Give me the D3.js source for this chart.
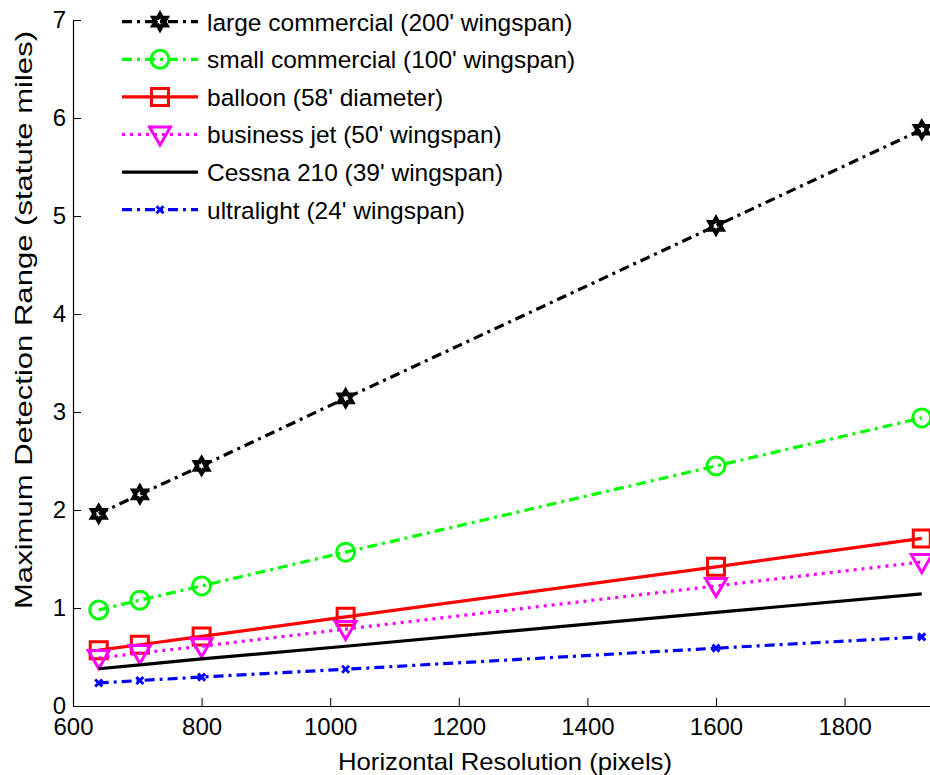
<!DOCTYPE html>
<html><head><meta charset="utf-8">
<script src="https://cdn.jsdelivr.net/npm/d3@7"></script>
<style>body{margin:0;background:#fff}svg{display:block}text{font-family:"Liberation Sans",Arial,sans-serif;fill:#000}</style>
</head><body><svg id="c" width="930" height="775"></svg>
<script>
const resolutions = [640, 704, 800, 1024, 1600, 1920];
const largeCommercial = [1.96, 2.16, 2.45, 3.14, 4.90, 5.88];
const smallCommercial = [0.98, 1.08, 1.225, 1.57, 2.45, 2.94];
const balloon = [0.57, 0.625, 0.71, 0.91, 1.42, 1.71];
const businessJet = [0.49, 0.54, 0.61, 0.785, 1.225, 1.47];
const cessna = [0.38, 0.42, 0.48, 0.61, 0.955, 1.145];
const ultralight = [0.235, 0.26, 0.295, 0.375, 0.59, 0.705];
const seriesNames = ["large commercial (200' wingspan)", "small commercial (100' wingspan)", "balloon (58' diameter)", "business jet (50' wingspan)", "Cessna 210 (39' wingspan)", "ultralight (24' wingspan)"];
const xTicks = [600, 800, 1000, 1200, 1400, 1600, 1800];
const yTicks = [0, 1, 2, 3, 4, 5, 6, 7];

const styles = [
  {color:"#000000", dash:"10,5,3,5", marker:"hexagram"},
  {color:"#00ff00", dash:"10,5,3,5", marker:"circle"},
  {color:"#ff0000", dash:null, marker:"square"},
  {color:"#ff00ff", dash:"3,5", marker:"triangle"},
  {color:"#000000", dash:null, marker:null},
  {color:"#0000ff", dash:"10,5,3,5", marker:"x"}
];
const allValues = [largeCommercial, smallCommercial, balloon, businessJet, cessna, ultralight];

const svg = d3.select("#c");
const L = 73, T = 20, B = 706;
const x = d3.scaleLinear().domain([600, 2000]).range([L, L + 1400*0.643]);
const y = d3.scaleLinear().domain([0, 7]).range([B, T]);
const FONT = '"Liberation Sans",Arial,sans-serif';

// axes
const xa = svg.append("g").attr("transform", `translate(0,${B})`)
  .call(d3.axisBottom(x).tickValues(xTicks).tickFormat(d3.format("d")).tickSizeInner(-8).tickSizeOuter(0).tickPadding(12));
const ya = svg.append("g").attr("transform", `translate(${L},0)`)
  .call(d3.axisLeft(y).tickValues(yTicks).tickFormat(d3.format("d")).tickSizeInner(-8).tickSizeOuter(0).tickPadding(7));
[xa, ya].forEach(a => {
  a.select(".domain").attr("stroke", "#000").attr("stroke-width", 1.2);
  a.selectAll(".tick line").attr("stroke", "#000").attr("stroke-width", 1);
  a.selectAll(".tick text").style("font-size", "24px").attr("fill", "#000").style("font-family", FONT);
});
ya.selectAll(".tick text").attr("dy", "0.30em");

svg.append("text").attr("x", 505).attr("y", 770).attr("text-anchor", "middle")
  .style("font-size", "24px").attr("textLength", 334).attr("lengthAdjust", "spacingAndGlyphs")
  .text("Horizontal Resolution (pixels)");
svg.append("text").attr("transform", `translate(32,320) rotate(-90)`).attr("text-anchor", "middle")
  .style("font-size", "24px").attr("textLength", 578).attr("lengthAdjust", "spacingAndGlyphs")
  .text("Maximum Detection Range (statute miles)");

function markerPath(type) {
  if (type === "hexagram") {
    const R = 7.5, r = R/Math.sqrt(3);
    const pts = d3.range(12).map(i => {
      const a = -Math.PI/2 + i*Math.PI/6, rr = i%2 ? r : R;
      return [rr*Math.cos(a), rr*Math.sin(a)];
    });
    return "M" + pts.map(p => p.join(",")).join("L") + "Z";
  }
  if (type === "square") return "M-8.5,-8.5H8.5V8.5H-8.5Z";
  if (type === "triangle") return "M-10.5,-7.5H10.5L0,10.5Z";
  if (type === "x") return "M-3.5,-3.5L3.5,3.5M-3.5,3.5L3.5,-3.5";
  return "";
}
function drawMarker(g, type, color, cx, cy) {
  if (!type) return;
  if (type === "circle") {
    g.append("circle").attr("cx", cx).attr("cy", cy).attr("r", 9)
      .attr("fill", "none").attr("stroke", color).attr("stroke-width", 3);
  } else {
    g.append("path").attr("d", markerPath(type)).attr("transform", `translate(${cx},${cy})`)
      .attr("fill", "none").attr("stroke", color)
      .attr("stroke-width", type === "hexagram" ? 4.2 : 3).attr("stroke-linejoin", "miter");
  }
}

const line = d3.line().x(d => x(d[0])).y(d => y(d[1]));
const plot = svg.append("g");
allValues.forEach((vals, i) => {
  const st = styles[i];
  const data = resolutions.map((r, j) => [r, vals[j]]);
  plot.append("path").datum(data).attr("d", line).attr("fill", "none")
    .attr("stroke", st.color).attr("stroke-width", 3.2)
    .attr("stroke-dasharray", st.dash);
  data.forEach(d => drawMarker(plot, st.marker, st.color, x(d[0]), y(d[1])));
});

// legend
const lg = svg.append("g");
seriesNames.forEach((name, i) => {
  const st = styles[i];
  const yy = 21.7 + i*37.6;
  lg.append("line").attr("x1", 122).attr("x2", 198).attr("y1", yy).attr("y2", yy)
    .attr("stroke", st.color).attr("stroke-width", 3.2).attr("stroke-dasharray", st.dash);
  drawMarker(lg, st.marker, st.color, 160, yy);
  lg.append("text").attr("x", 207).attr("y", yy).attr("dy", "0.36em")
    .style("font-size", "24.5px").text(name);
});
</script></body></html>
